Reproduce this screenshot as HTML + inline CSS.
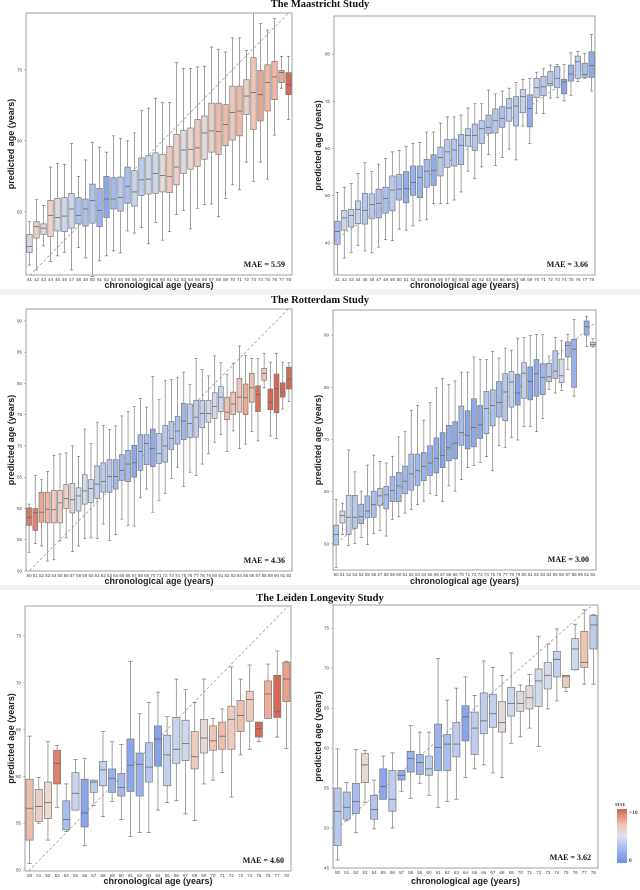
<!DOCTYPE html>
<html><head><meta charset="utf-8">
<style>
html,body{margin:0;padding:0;background:#fff;}
svg{display:block;}
.ttl{font-family:"Liberation Serif",serif;font-weight:bold;font-size:10.5px;fill:#111;}
.axl{font-family:"Liberation Sans",sans-serif;font-weight:bold;font-size:9px;fill:#222;}
.tk{font-family:"Liberation Sans",sans-serif;font-size:4.5px;fill:#444;}
.mae{font-family:"Liberation Serif",serif;font-weight:bold;font-size:8px;fill:#111;}
</style></head>
<body>
<svg id="fig" width="640" height="890" viewBox="0 0 640 890" xmlns="http://www.w3.org/2000/svg">
<rect x="0" y="0" width="640" height="890" fill="#fff"/>
<rect x="0" y="289" width="640" height="6" fill="#f2f2f2"/>
<rect x="0" y="585" width="640" height="5" fill="#f2f2f2"/>
<text class="ttl" x="320" y="7" text-anchor="middle">The Maastricht Study</text>
<text class="ttl" x="320" y="303" text-anchor="middle">The Rotterdam Study</text>
<text class="ttl" x="320" y="601" text-anchor="middle">The Leiden Longevity Study</text>
<defs>
<linearGradient id="cbar" x1="0" y1="1" x2="0" y2="0">
<stop offset="0" stop-color="#6f8fe0"/><stop offset="0.3" stop-color="#a9c1f2"/><stop offset="0.5" stop-color="#dde2ee"/><stop offset="0.7" stop-color="#f2c7b5"/><stop offset="1" stop-color="#cf6352"/>
</linearGradient>
</defs>
<g>
<rect x="617" y="809" width="10" height="54" fill="url(#cbar)"/>
<text class="tk" x="615" y="806" style="font-family:'Liberation Serif',serif;font-size:4.5px;font-weight:bold">MAE</text>
<text class="tk" x="629" y="814" style="font-family:'Liberation Serif',serif;font-size:5.5px;font-weight:bold">&gt;10</text>
<text class="tk" x="629" y="862" style="font-family:'Liberation Serif',serif;font-size:5.5px;font-weight:bold">0</text>
</g>
</svg>
<script>
// ---------- data ----------
const catsA = [41,42,43,44,45,46,47,48,49,50,51,52,53,54,55,56,57,58,59,60,61,62,63,64,65,66,67,68,69,70,71,72,73,74,75,76,77,78];
const medA = [45.1,47.9,47.7,49.5,49.2,49.4,50.4,49.5,50.4,51.6,50.2,51.8,51.8,52.0,53.6,52.8,54.5,54.6,55.4,55.1,55.0,56.3,58.7,58.8,59.0,61.1,61.4,61.3,62.3,64.0,64.2,66.3,66.8,66.5,68.2,69.0,69.6,67.9];
const q1A = [44.3,46.3,46.8,46.5,47.3,47.2,47.7,48.3,48.0,48.4,47.9,49.2,50.4,50.1,51.2,50.8,52.3,52.5,52.6,52.8,52.7,53.8,55.4,56.0,56.4,57.4,58.4,58.1,59.3,60.1,60.7,63.7,61.6,62.8,64.2,65.8,68.2,66.5];
const q3A = [46.8,48.6,48.3,51.6,51.9,52.0,52.6,52.0,51.8,53.9,53.3,55.0,54.8,54.9,56.3,55.8,57.6,57.9,58.3,58.1,59.2,60.9,61.5,61.8,63.0,63.5,65.3,65.3,65.1,67.7,67.7,68.6,71.7,69.9,70.7,71.2,69.9,69.6];
const loA = [42.5,41.8,45.2,43.0,43.8,44.3,41.8,45.0,43.5,40.9,43.1,43.8,44.5,44.2,47.3,47.0,47.8,45.5,48.5,46.0,47.2,49.6,50.2,47.6,50.5,51.0,51.1,49.3,51.9,53.8,53.1,57.0,54.3,57.0,54.6,60.8,67.4,63.0];
const hiA = [48.6,51.7,50.9,56.3,56.8,56.7,59.6,55.0,57.3,59.8,59.1,58.4,60.7,60.3,60.0,61.1,64.3,64.6,66.0,65.4,65.4,71.0,70.2,70.2,70.4,70.5,73.2,72.9,72.5,74.5,74.5,72.7,78.0,76.5,75.6,77.2,71.9,71.9];

const catsB = [41,42,43,44,45,46,47,48,49,50,51,52,53,54,55,56,57,58,59,60,61,62,63,64,65,66,67,68,69,70,71,72,73,74,75,76,77,78];
const medB = [42.4,45.3,45.8,47.1,46.9,48.1,48.4,49.4,51.2,51.4,51.5,52.8,53.9,55.2,55.4,58.1,59.3,59.7,60.7,62.8,62.8,64.2,64.5,65.9,66.4,68.6,69.0,71.0,68.5,72.9,73.1,73.8,74.9,74.1,75.8,78.4,75.7,77.6];
const q1B = [39.7,42.7,43.4,44.1,44.0,45.1,45.3,46.3,46.8,49.1,48.5,50.1,49.6,51.8,52.2,54.2,56.0,56.3,56.6,60.5,59.6,61.1,63.2,63.3,64.5,65.8,64.8,67.6,64.6,70.8,71.2,73.3,72.9,71.6,74.3,74.9,75.1,75.1];
const q3B = [44.6,46.9,47.1,48.9,50.5,50.4,51.4,51.8,54.2,54.5,55.1,56.3,56.3,57.7,58.7,60.3,61.9,62.0,63.0,64.2,65.2,65.9,67.1,68.4,68.9,70.6,71.0,72.5,71.4,74.9,75.3,76.3,77.4,74.7,77.7,79.6,78.1,80.5];
const loB = [33.2,36.8,38.0,39.5,38.3,37.9,39.1,40.7,40.5,42.9,42.7,43.6,44.7,44.9,48.3,48.3,48.3,49.1,50.8,55.2,53.6,56.1,58.7,56.4,58.1,59.9,57.6,64.8,61.1,67.5,67.4,70.7,70.8,70.1,71.3,74.2,74.9,72.2];
const hiB = [50.7,51.8,52.6,54.7,57.0,55.1,56.7,57.9,59.3,59.6,60.5,61.1,61.3,63.5,63.5,65.4,66.7,66.7,67.1,68.6,69.5,69.5,72.4,71.6,72.2,72.8,74.0,74.7,74.9,76.2,76.9,77.7,77.8,77.8,80.3,80.6,80.2,84.2];

const catsC = [50,51,52,53,54,55,56,57,58,59,60,61,62,63,64,65,66,67,68,69,70,71,72,73,74,75,76,77,78,79,80,81,82,83,84,85,86,87,88,89,90,91,92];
const medC = [58.6,59.3,59.4,59.9,59.8,60.9,61.6,61.4,62.0,62.8,63.2,63.9,64.3,65.1,65.1,66.1,67.1,67.3,69.1,70.4,69.6,68.8,70.0,71.2,72.4,74.0,73.6,74.6,75.2,75.2,76.3,77.8,75.4,76.7,77.8,77.7,79.3,78.2,81.6,77.0,79.2,78.6,80.7];
const q1C = [57.3,56.5,57.8,57.7,57.7,57.7,60.0,59.3,59.6,60.7,60.9,61.6,62.6,62.6,63.1,64.5,64.3,65.0,66.1,67.0,66.7,67.2,67.4,69.4,70.3,71.0,71.3,71.4,72.9,73.8,74.4,75.5,74.2,75.0,75.4,75.0,77.0,75.5,80.5,75.8,75.3,77.8,79.1];
const q3C = [60.1,60.0,62.6,62.6,62.9,62.9,63.8,64.0,63.3,65.4,64.6,66.8,67.3,67.8,67.8,68.6,69.3,70.1,71.8,71.8,72.7,72.0,73.3,73.9,74.7,76.8,76.7,77.3,77.3,77.3,78.5,79.5,77.8,78.6,80.8,79.9,81.6,79.6,82.4,79.1,81.5,80.1,82.6];
const loC = [53.0,54.4,54.0,51.6,51.8,54.8,55.3,53.1,54.0,55.2,55.3,55.2,57.5,54.9,55.8,58.3,57.3,57.2,61.7,63.1,59.4,61.3,62.4,64.8,66.6,63.5,65.8,65.3,67.1,68.8,70.6,71.8,69.1,72.4,69.6,70.3,72.3,70.8,79.3,71.6,71.2,75.9,77.1];
const hiC = [60.7,65.3,64.6,65.9,68.5,68.7,68.9,70.0,68.3,72.7,70.4,73.8,73.3,72.6,73.2,74.8,75.5,76.3,77.6,76.2,81.1,77.4,80.5,80.6,81.0,81.8,79.8,84.0,82.2,81.2,84.4,83.3,81.4,83.2,86.0,84.5,84.0,84.0,84.8,83.4,84.8,83.4,83.3];

const catsD = [50,51,52,53,54,55,56,57,58,59,60,61,62,63,64,65,66,67,68,69,70,71,72,73,74,75,76,77,78,79,80,81,82,83,84,85,86,87,88,89,91,92];
const medD = [51.8,55.4,55.1,55.1,55.2,56.3,57.5,59.2,59.4,60.2,61.1,62.0,63.4,64.1,64.8,65.5,66.4,66.9,68.4,69.3,71.3,70.8,72.3,72.8,75.9,76.5,77.1,79.1,81.0,78.9,82.7,81.1,82.6,81.9,82.0,83.1,82.2,88.0,87.3,null,91.6,88.2];
const q1D = [49.8,54.0,51.8,53.0,53.9,55.0,55.1,57.4,56.7,58.1,58.1,59.6,60.3,61.2,62.1,63.1,63.6,64.6,65.9,66.3,68.9,68.2,68.6,70.2,71.1,72.6,74.3,73.6,76.2,76.6,77.9,77.6,78.3,78.6,81.1,81.7,80.9,85.8,80.0,null,90.0,87.9];
const q3D = [53.6,56.3,59.3,59.3,57.6,59.2,60.1,60.6,61.0,62.9,63.7,64.9,67.2,67.2,67.5,68.8,70.3,71.3,72.7,73.4,76.4,75.5,77.8,76.5,79.2,79.5,81.1,82.6,83.0,82.5,84.7,83.9,85.3,84.5,84.6,87.0,85.4,88.7,89.2,null,92.7,88.6];
const loD = [45.5,51.8,49.7,50.1,51.2,49.9,52.0,52.6,51.5,54.7,55.2,55.9,56.6,57.5,58.2,59.6,59.3,58.1,61.1,60.1,62.3,64.6,65.0,65.6,66.7,64.0,68.8,68.5,70.4,69.9,72.5,72.5,71.5,74.0,79.6,78.9,79.4,83.4,78.3,null,87.8,87.7];
const hiD = [58.5,57.8,68.0,63.8,60.1,65.1,67.0,65.8,65.5,66.8,70.5,71.5,75.6,76.5,73.7,77.1,79.9,81.7,80.5,81.2,82.9,82.9,85.8,85.3,85.3,86.9,85.6,87.5,87.1,89.4,89.5,89.9,90.1,90.1,86.0,89.5,88.9,90.1,93.0,null,93.6,89.3];

const catsE = [50,51,52,53,54,55,56,57,58,59,60,61,62,63,64,65,66,67,68,69,70,71,72,73,74,75,76,77,78];
const medE = [56.6,56.8,57.2,61.4,55.4,58.2,56.1,59.4,60.7,59.8,58.8,61.2,61.3,61.0,64.0,62.3,62.9,63.5,62.1,64.1,63.8,64.3,66.1,66.5,68.2,65.1,68.8,66.9,70.4];
const q1E = [53.2,55.2,55.5,59.2,54.3,56.4,54.6,58.3,59.0,58.3,57.9,58.4,57.9,59.4,61.1,59.0,61.4,61.7,60.8,62.5,62.8,62.9,62.9,64.8,65.9,64.2,66.2,66.3,68.0];
const q3E = [59.7,58.6,59.4,62.8,57.4,60.4,59.7,59.6,61.6,60.8,60.3,64.0,62.5,63.6,65.4,64.4,66.3,66.0,64.8,66.1,65.4,65.8,67.5,68.1,69.1,65.8,70.2,70.8,72.2];
const loE = [50.7,55.0,53.2,56.7,54.1,56.4,52.6,56.9,55.7,57.3,55.4,53.6,54.0,54.0,56.4,57.2,57.4,56.0,55.3,59.2,59.6,60.4,57.8,62.3,62.9,63.7,66.2,64.2,63.0];
const hiE = [64.3,59.9,63.7,63.3,59.2,61.8,61.9,59.6,64.8,63.7,63.4,72.3,66.7,67.9,69.0,66.4,70.4,69.3,67.9,70.4,66.2,67.2,71.7,70.4,71.9,65.8,72.0,73.4,72.3];

const catsF = [50,51,52,53,54,55,56,57,58,59,60,61,62,63,64,65,66,67,68,69,70,71,72,73,74,75,76,77,78];
const medF = [52.1,52.6,53.3,57.9,52.3,55.2,53.6,56.6,58.7,58.2,57.4,60.1,60.5,60.5,63.9,62.5,63.4,64.3,63.2,65.6,65.6,66.3,68.4,69.1,71.1,69.0,72.4,70.7,75.4];
const q1F = [47.8,51.1,51.8,55.7,51.1,53.6,52.1,56.0,57.0,56.7,56.6,57.2,57.2,58.9,60.9,59.2,61.8,62.6,62.0,64.0,64.6,64.9,65.2,67.4,68.9,67.6,69.8,70.1,72.4];
const q3F = [55.0,54.5,55.6,59.3,54.1,57.4,57.2,57.2,59.6,59.2,59.0,63.0,61.7,63.2,65.3,64.5,66.9,66.7,65.8,67.6,67.1,67.8,69.9,70.7,72.1,69.1,73.7,74.6,76.6];
const loF = [46.0,50.9,49.4,53.2,49.9,53.6,50.0,54.6,53.7,55.6,54.1,52.6,53.3,53.6,56.3,57.4,57.9,56.9,56.3,60.6,61.4,62.5,60.2,64.9,65.9,67.1,69.8,68.0,68.0];
const hiF = [59.9,55.7,59.8,59.7,56.0,59.0,59.4,57.2,62.8,62.0,62.0,71.2,66.0,67.5,68.9,66.6,70.9,70.1,69.1,71.9,67.9,69.2,74.0,73.0,74.9,69.1,75.5,77.3,76.7];

const ticksA = [50,60,70];
const ticksB = [40,50,60,70,80];
const ticksC = [50,55,60,65,70,75,80,85,90];
const ticksD = [50,60,70,80,90];
const ticksE = [50,55,60,65,70,75];
const ticksF = [45,50,55,60,65,70,75];
const maeLabels = ["MAE = 5.59","MAE = 3.66","MAE = 4.36","MAE = 3.00","MAE = 4.60","MAE = 3.62"];

// ---------- layout ----------
const NS = "http://www.w3.org/2000/svg";
const svg = document.getElementById('fig');
const panels = [
 {id:'maastricht-left', cats:catsA, med:medA, q1:q1A, q3:q3A, lo:loA, hi:hiA, ticks:ticksA, mae:maeLabels[0], fx:26, fy:13, fw:266, fh:262, ymin:41.1, ymax:78.0, ylx:11, xly:288},
 {id:'maastricht-right', cats:catsB, med:medB, q1:q1B, q3:q3B, lo:loB, hi:hiB, ticks:ticksB, mae:maeLabels[1], fx:334, fy:16, fw:261, fh:259, ymin:33.2, ymax:88.1, ylx:318, xly:288},
 {id:'rotterdam-left', cats:catsC, med:medC, q1:q1C, q3:q3C, lo:loC, hi:hiC, ticks:ticksC, mae:maeLabels[2], fx:26, fy:309, fw:266, fh:262, ymin:50, ymax:91.9, ylx:11, xly:584},
 {id:'rotterdam-right', cats:catsD, med:medD, q1:q1D, q3:q3D, lo:loD, hi:hiD, ticks:ticksD, mae:maeLabels[3], fx:333, fy:310, fw:263, fh:260, ymin:45, ymax:94.8, ylx:318, xly:584},
 {id:'leiden-left', cats:catsE, med:medE, q1:q1E, q3:q3E, lo:loE, hi:hiE, ticks:ticksE, mae:maeLabels[4], fx:25, fy:606, fw:266, fh:265, ymin:49.9, ymax:78.2, ylx:11, xly:884},
 {id:'leiden-right', cats:catsF, med:medF, q1:q1F, q3:q3F, lo:loF, hi:hiF, ticks:ticksF, mae:maeLabels[5], fx:333, fy:605, fw:265, fh:263, ymin:45, ymax:77.9, ylx:318, xly:884}
];

const stops = [[0,[134,163,232]],[0.2,[179,198,240]],[0.42,[211,219,236]],[0.58,[236,216,208]],[0.78,[240,182,160]],[1,[212,106,85]]];
function cmap(t){
  t = Math.max(0, Math.min(1, t));
  for (let i = 1; i < stops.length; i++) {
    if (t <= stops[i][0]) {
      const a = stops[i-1], b = stops[i];
      const f = (t - a[0]) / (b[0] - a[0]);
      const c = a[1].map((v, k) => Math.round(v + (b[1][k] - v) * f));
      return 'rgb(' + c.join(',') + ')';
    }
  }
  return 'rgb(212,106,85)';
}
function mk(tag, attrs, parent){
  const e = document.createElementNS(NS, tag);
  for (const k in attrs) e.setAttribute(k, attrs[k]);
  (parent || svg).appendChild(e);
  return e;
}

panels.forEach((p, pi) => {
  const g = mk('g', {});
  
  
  const n = p.cats.length;
  const step = p.fw / n;
  const xS = i => p.fx + (i + 0.5) * step;
  const yS = v => p.fy + (p.ymax - v) / (p.ymax - p.ymin) * p.fh;

  const cp = mk('clipPath', {id: 'clip' + pi}, g);
  mk('rect', {x: p.fx, y: p.fy, width: p.fw, height: p.fh}, cp);

  const c0 = p.cats[0], c1 = p.cats[n - 1];
  const diag = mk('line', {x1: p.fx, y1: yS(c0 - 0.5), x2: p.fx + p.fw, y2: yS(c1 + 0.5), stroke: '#9a9a9a', 'stroke-width': 0.7, 'stroke-dasharray': '3,2', 'clip-path': 'url(#clip' + pi + ')'}, g);
  
  

  for (let i = 0; i < n; i++) {
    if (p.med[i] === null) continue;
    const bg = mk('g', {}, g);
    
    
    const cx = xS(i), bw = step * 0.78;
    const col = cmap(Math.abs(p.med[i] - p.cats[i]) / 9);
    mk('line', {x1: cx, y1: yS(p.hi[i]), x2: cx, y2: yS(p.q3[i]), stroke: '#8a8a8a', 'stroke-width': 0.8}, bg);
    mk('line', {x1: cx, y1: yS(p.q1[i]), x2: cx, y2: yS(p.lo[i]), stroke: '#8a8a8a', 'stroke-width': 0.8}, bg);
    mk('line', {x1: cx - bw * 0.3, y1: yS(p.hi[i]), x2: cx + bw * 0.3, y2: yS(p.hi[i]), stroke: '#777', 'stroke-width': 0.7}, bg);
    mk('line', {x1: cx - bw * 0.3, y1: yS(p.lo[i]), x2: cx + bw * 0.3, y2: yS(p.lo[i]), stroke: '#777', 'stroke-width': 0.7}, bg);
    mk('rect', {x: cx - bw / 2, y: yS(p.q3[i]), width: bw, height: Math.max(0.5, yS(p.q1[i]) - yS(p.q3[i])), fill: col, stroke: '#7a7a7a', 'stroke-width': 0.7}, bg);
    mk('line', {x1: cx - bw / 2, y1: yS(p.med[i]), x2: cx + bw / 2, y2: yS(p.med[i]), stroke: '#666', 'stroke-width': 0.8}, bg);
  }

  const fr = mk('rect', {x: p.fx, y: p.fy, width: p.fw, height: p.fh, fill: 'none', stroke: '#a0a0a0', 'stroke-width': 1}, g);
  
  

  p.ticks.forEach(t => {
    const y = yS(t);
    mk('line', {x1: p.fx - 2, y1: y, x2: p.fx, y2: y, stroke: '#888', 'stroke-width': 0.5}, g);
    const tl = mk('text', {class: 'tk', x: p.fx - 4, y: y + 1.5, 'text-anchor': 'end'}, g);
    tl.textContent = t;
    
    
  });
  p.cats.forEach((c, i) => {
    const tl = mk('text', {class: 'tk', x: xS(i), y: p.fy + p.fh + 6, 'text-anchor': 'middle'}, g);
    tl.textContent = c;
    
    
  });

  const yl = mk('text', {class: 'axl', x: 0, y: 0, 'text-anchor': 'middle', transform: 'translate(' + (p.ylx + 3) + ',' + (p.fy + p.fh / 2) + ') rotate(-90)'}, g);
  yl.textContent = 'predicted age (years)';
  
  
  const xl = mk('text', {class: 'axl', x: p.fx + p.fw / 2, y: p.xly, 'text-anchor': 'middle'}, g);
  xl.textContent = 'chronological age (years)';
  
  

  const mt = mk('text', {class: 'mae', x: p.fx + p.fw - 7, y: p.fy + p.fh - 8, 'text-anchor': 'end'}, g);
  mt.textContent = p.mae;
  
  
});
</script>
</body></html>
